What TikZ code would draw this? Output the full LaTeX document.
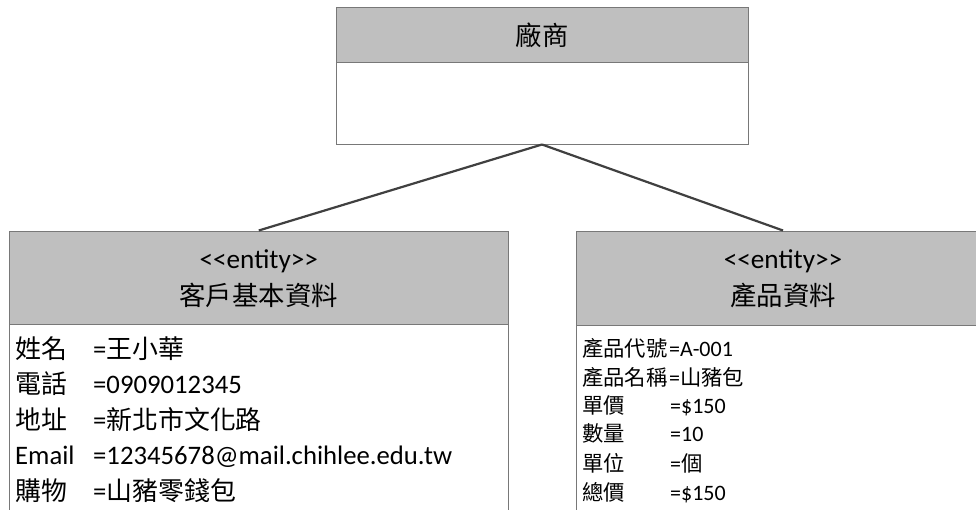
\documentclass[tikz,border=0pt]{standalone}
\usepackage{fontspec}
\setmainfont{Carlito}
\newfontfamily\cjk[Scale=0.97]{Noto Sans CJK TC}
\definecolor{hdrgray}{RGB}{191,191,191}
\definecolor{boxgray}{RGB}{120,120,120}
\definecolor{conngray}{RGB}{64,64,64}
\newcommand{\stereo}{<\kern0pt<entity>\kern0pt>}
\begin{document}
\begin{tikzpicture}[x=1pt,y=-1pt,
  hdr/.style={draw=boxgray,fill=hdrgray,line width=1pt,rectangle,inner sep=0pt},
  bodybox/.style={draw=boxgray,fill=white,line width=1pt,rectangle,inner sep=0pt},
  conn/.style={draw=conngray,line width=2.2pt},
  big/.style={inner sep=0pt,font=\fontsize{27.2}{30}\selectfont},
  attrL/.style={inner sep=0pt,anchor=base west,font=\fontsize{26.7}{30}\selectfont},
  attrR/.style={inner sep=0pt,anchor=base west,font=\fontsize{22}{24}\selectfont}]
\useasboundingbox (0,0) rectangle (976,509);
\clip (0,0) rectangle (976,509);
\fill[white] (0,0) rectangle (976,509);
% top box
\node[bodybox,minimum width=412pt,minimum height=82pt] (vbody) at (542,103) {};
\node[hdr,minimum width=412pt,minimum height=55pt] (vhead) at (542,34.5) {};
\node[big,anchor=base] (vname) at (542,45) {\cjk 廠商};
% left box
\node[bodybox,minimum width=498.5pt,minimum height=200pt] (cbody) at (258.75,424) {};
\node[hdr,minimum width=498.5pt,minimum height=93pt] (chead) at (258.75,277.5) {};
\node[big,anchor=base] (cster) at (258.75,268) {\stereo};
\node[big,anchor=base] (cname) at (258.75,305) {\cjk 客戶基本資料};
% right box
\node[bodybox,minimum width=414pt,minimum height=200pt] (pbody) at (783,425) {};
\node[hdr,minimum width=414pt,minimum height=94pt] (phead) at (783,278) {};
\node[big,anchor=base] (pster) at (783,268) {\stereo};
\node[big,anchor=base] (pname) at (783,305) {\cjk 產品資料};
% connectors
\draw[conn] (vbody.south) -- (chead.north);
\draw[conn] (vbody.south) -- (phead.north);
% left attributes
\node[attrL] (l1) at (15,358) {\cjk 姓名};
\node[attrL] (v1) at (93,358) {=\cjk 王小華};
\node[attrL] (l2) at (15,393.5) {\cjk 電話};
\node[attrL] (v2) at (93,393.5) {=0909012345};
\node[attrL] (l3) at (15,429) {\cjk 地址};
\node[attrL] (v3) at (93,429) {=\cjk 新北市文化路};
\node[attrL] (l4) at (15,464.5) {Email};
\node[attrL] (v4) at (93,464.5) {=12345678@mail.chihlee.edu.tw};
\node[attrL] (l5) at (15,500) {\cjk 購物};
\node[attrL] (v5) at (93,500) {=\cjk 山豬零錢包};
% right attributes
\node[attrR] (r1) at (582,356) {\cjk 產品代號};
\node[attrR] (w1) at (669,356) {=A-001};
\node[attrR] (r2) at (582,385) {\cjk 產品名稱};
\node[attrR] (w2) at (669,385) {=\cjk 山豬包};
\node[attrR] (r3) at (582,413) {\cjk 單價};
\node[attrR] (w3) at (670,413) {=\$150};
\node[attrR] (r4) at (582,441) {\cjk 數量};
\node[attrR] (w4) at (670,441) {=10};
\node[attrR] (r5) at (582,471) {\cjk 單位};
\node[attrR] (w5) at (670,471) {=\cjk 個};
\node[attrR] (r6) at (582,500) {\cjk 總價};
\node[attrR] (w6) at (670,500) {=\$150};
\end{tikzpicture}
\end{document}
